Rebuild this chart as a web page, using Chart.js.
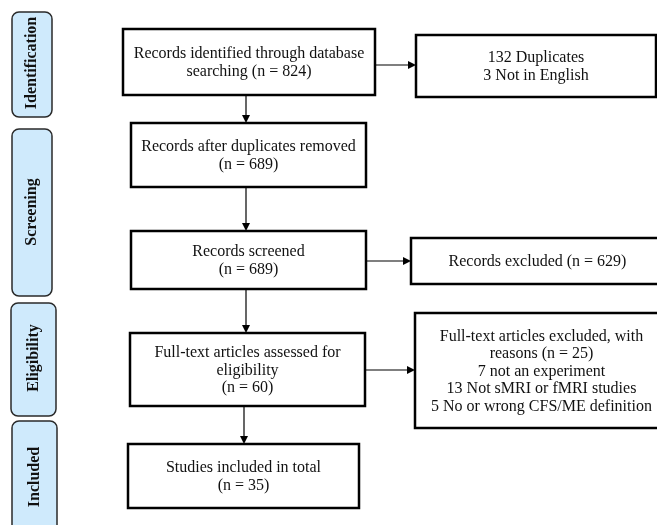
<!DOCTYPE html>
<html><head><meta charset="utf-8">
<script src="https://cdn.jsdelivr.net/npm/chart.js@4"></script>
<style>html,body{margin:0;padding:0;background:#fff;overflow:hidden}#wrap{width:657px;height:525px;position:relative}</style>
</head><body><div id="wrap"><canvas id="c"></canvas></div>
<script>
// ---- data ----
const stages = ['Identification', 'Screening', 'Eligibility', 'Included'];
const identified = 824;
const duplicates = 132;
const notEnglish = 3;
const afterDuplicates = 689;
const screened = 689;
const excludedScreening = 629;
const fullTextAssessed = 60;
const excludedFullText = 25;
const reasonCounts = [7, 13, 5];
const reasonLabels = ['not an experiment', 'Not sMRI or fMRI studies', 'No or wrong CFS/ME definition'];
const includedTotal = 35;

// ---- texts built from data ----
const boxTexts = {
  b1: ['Records identified through database', `searching (n = ${identified})`],
  dup: [`${duplicates} Duplicates`, `${notEnglish} Not in English`],
  b2: ['Records after duplicates removed', `(n = ${afterDuplicates})`],
  b3: ['Records screened', `(n = ${screened})`],
  ex1: [`Records excluded (n = ${excludedScreening})`],
  b4: ['Full-text articles assessed for', 'eligibility', `(n = ${fullTextAssessed})`],
  ex2: ['Full-text articles excluded, with', `reasons (n = ${excludedFullText})`]
        .concat(reasonCounts.map((c, i) => `${c} ${reasonLabels[i]}`)),
  b5: ['Studies included in total', `(n = ${includedTotal})`]
};

// ---- layout (in chart units, converted through scales) ----
const boxGeom = {
  b1: [123, 29, 375, 95], dup: [416, 35, 656, 97],
  b2: [131, 123, 366, 187], b3: [131, 231, 366, 289],
  ex1: [411, 238, 664, 284], b4: [130, 333, 365, 406],
  ex2: [415, 313, 668, 428], b5: [128, 444, 359, 508]
};
const stageGeom = [[12, 12, 52, 117, 63], [12, 129, 52, 296, 212], [11, 303, 56, 416, 358], [12, 421, 57, 540, 477]];
const arrows = [
  [246, 95, 246, 123], [246, 187, 246, 231], [246, 289, 246, 333], [244, 406, 244, 444],
  [375, 65, 416, 65], [366, 261, 411, 261], [365, 370, 415, 370]
];

const flowPlugin = {
  id: 'flow',
  afterDraw(chart) {
    const ctx = chart.ctx, xs = chart.scales.x, ys = chart.scales.y;
    const X = v => xs.getPixelForValue(v), Y = v => ys.getPixelForValue(v);
    ctx.save();
    // stage labels
    stageGeom.forEach((g, i) => {
      const x0 = X(g[0]), y0 = Y(g[1]), x1 = X(g[2]), y1 = Y(g[3]);
      ctx.beginPath();
      ctx.roundRect(x0, y0, x1 - x0, y1 - y0, 7);
      ctx.fillStyle = '#cfeafc';
      ctx.fill();
      ctx.lineWidth = 1.5;
      ctx.strokeStyle = '#2a2a2a';
      ctx.stroke();
      ctx.save();
      ctx.translate((x0 + x1) / 2, Y(g[4]));
      ctx.rotate(-Math.PI / 2);
      ctx.fillStyle = '#111';
      ctx.font = 'bold 16px "Liberation Serif", serif';
      ctx.textAlign = 'center';
      ctx.textBaseline = 'middle';
      ctx.fillText(stages[i], 0, 0);
      ctx.restore();
    });
    // boxes
    Object.keys(boxGeom).forEach(k => {
      const g = boxGeom[k];
      const x0 = X(g[0]), y0 = Y(g[1]), x1 = X(g[2]), y1 = Y(g[3]);
      ctx.fillStyle = '#fff';
      ctx.fillRect(x0, y0, x1 - x0, y1 - y0);
      ctx.lineWidth = 2.5;
      ctx.strokeStyle = '#000';
      ctx.strokeRect(x0, y0, x1 - x0, y1 - y0);
      const lines = boxTexts[k];
      const lh = 17.5;
      const cy = (y0 + y1) / 2 + 1;
      ctx.fillStyle = '#111';
      ctx.font = '16px "Liberation Serif", serif';
      ctx.textAlign = 'center';
      ctx.textBaseline = 'middle';
      lines.forEach((t, i) => {
        ctx.fillText(t, (x0 + x1) / 2, cy + (i - (lines.length - 1) / 2) * lh);
      });
    });
    // arrows
    arrows.forEach(a => {
      const x0 = X(a[0]), y0 = Y(a[1]), x1 = X(a[2]), y1 = Y(a[3]);
      const ang = Math.atan2(y1 - y0, x1 - x0);
      const hl = 8, hw = 4;
      const bx = x1 - hl * Math.cos(ang), by = y1 - hl * Math.sin(ang);
      ctx.strokeStyle = '#000';
      ctx.lineWidth = 1.2;
      ctx.beginPath();
      ctx.moveTo(x0, y0);
      ctx.lineTo(bx, by);
      ctx.stroke();
      ctx.fillStyle = '#000';
      ctx.beginPath();
      ctx.moveTo(x1, y1);
      ctx.lineTo(bx + hw * Math.sin(ang), by - hw * Math.cos(ang));
      ctx.lineTo(bx - hw * Math.sin(ang), by + hw * Math.cos(ang));
      ctx.closePath();
      ctx.fill();
    });
    ctx.restore();
  }
};

new Chart(document.getElementById('c'), {
  type: 'scatter',
  data: { datasets: [{ data: [], pointRadius: 0 }] },
  options: {
    responsive: true,
    maintainAspectRatio: false,
    animation: false,
    layout: { padding: 0 },
    plugins: { legend: { display: false }, tooltip: { enabled: false } },
    scales: {
      x: { type: 'linear', min: 0, max: 657, display: false },
      y: { type: 'linear', min: 0, max: 525, reverse: true, display: false }
    }
  },
  plugins: [flowPlugin]
});
</script>
</body></html>
